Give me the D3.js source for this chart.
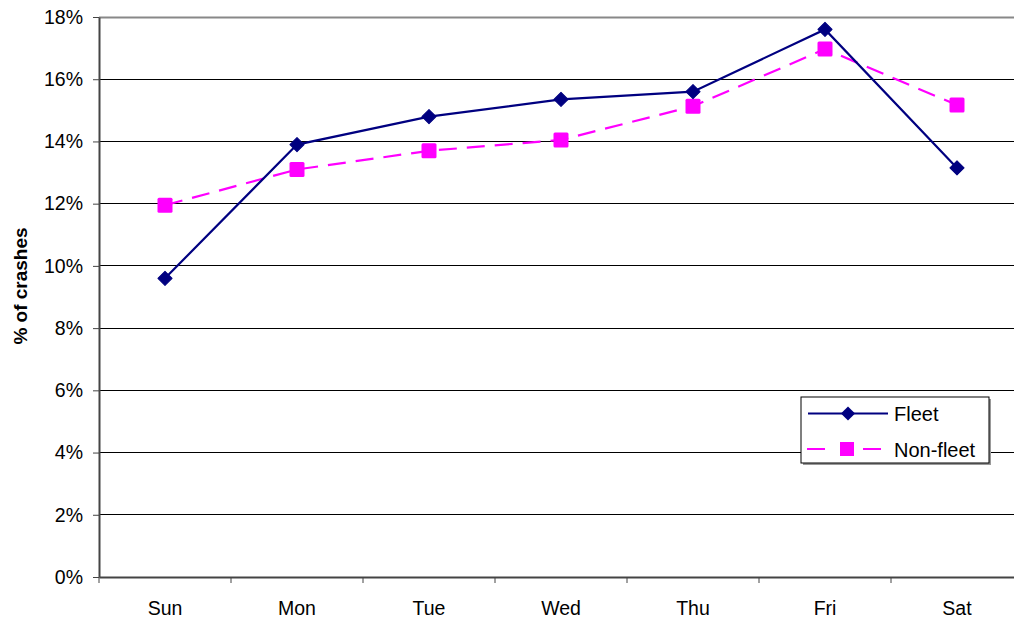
<!DOCTYPE html>
<html>
<head>
<meta charset="utf-8">
<script src="https://cdn.jsdelivr.net/npm/d3@7"></script>
<style>
  body { margin: 0; background: #fff; }
  svg { font-family: "Liberation Sans", Arial, sans-serif; }
</style>
</head>
<body>
<svg width="1014" height="622"></svg>
<script>
var days = ["Sun", "Mon", "Tue", "Wed", "Thu", "Fri", "Sat"];
var fleet = [9.6, 13.9, 14.8, 15.35, 15.6, 17.6, 13.15];
var nonFleet = [11.95, 13.1, 13.7, 14.05, 15.13, 16.97, 15.17];
var yTicks = [0, 2, 4, 6, 8, 10, 12, 14, 16, 18];

var svg = d3.select("svg"),
  margin = { top: 17, left: 99 },
  width = 7 * 132,
  height = 560,
  g = svg.append("g").attr("transform", "translate(" + margin.left + "," + margin.top + ")");

var x = d3.scaleBand().domain(days).range([0, width]);
var y = d3.scaleLinear().domain([0, 18]).range([height, 0]);

// gridlines
g.selectAll(".grid").data(yTicks.slice(1, -1)).enter().append("line")
  .attr("x1", 0).attr("x2", width)
  .attr("y1", function(d) { return y(d); })
  .attr("y2", function(d) { return y(d); })
  .attr("stroke", "#000").attr("stroke-width", 1).attr("shape-rendering", "crispEdges");

// top border
g.append("line").attr("x1", 0).attr("x2", width).attr("y1", 0.5).attr("y2", 0.5)
  .attr("stroke", "#888").attr("stroke-width", 2);

// y axis
var yAxis = g.append("g")
  .call(d3.axisLeft(y).tickValues(yTicks).tickFormat(function(d) { return d + "%"; }).tickSize(6).tickSizeOuter(0));
yAxis.select(".domain").attr("stroke", "#444").attr("stroke-width", 2);
yAxis.selectAll(".tick line").attr("stroke", "#444");
yAxis.selectAll("text").attr("font-size", 19.5).attr("fill", "#000").attr("x", -16).attr("font-family", "Liberation Sans, Arial, sans-serif");

// x axis with ticks at category boundaries
var xAxis = g.append("g").attr("transform", "translate(0," + height + ")")
  .call(d3.axisBottom(x).tickSize(0).tickSizeOuter(0));
xAxis.select(".domain").attr("stroke", "#444").attr("stroke-width", 2);
xAxis.selectAll("text").attr("font-size", 19.5).attr("fill", "#000").attr("dy", null).attr("y", 38).attr("font-family", "Liberation Sans, Arial, sans-serif");
xAxis.selectAll(".bound").data(d3.range(days.length + 1)).enter().append("line")
  .attr("x1", function(i) { return i * x.bandwidth(); })
  .attr("x2", function(i) { return i * x.bandwidth(); })
  .attr("y1", 0).attr("y2", 6)
  .attr("stroke", "#444");

// y label
svg.append("text")
  .attr("transform", "translate(27,286) rotate(-90)")
  .attr("text-anchor", "middle")
  .attr("font-size", 19).attr("font-weight", "bold")
  .text("% of crashes");

var cx = function(d, i) { return x(days[i]) + x.bandwidth() / 2; };
var line = d3.line().x(cx).y(function(d) { return y(d); });

// non-fleet
g.append("path").datum(nonFleet).attr("d", line)
  .attr("fill", "none").attr("stroke", "#ff00ff").attr("stroke-width", 2.2)
  .attr("stroke-dasharray", "18,10");
g.selectAll(".sq").data(nonFleet).enter().append("rect")
  .attr("x", function(d, i) { return cx(d, i) - 7.5; })
  .attr("y", function(d) { return y(d) - 7.5; })
  .attr("width", 15).attr("height", 15).attr("rx", 1.5)
  .attr("fill", "#ff00ff");

// fleet
g.append("path").datum(fleet).attr("d", line)
  .attr("fill", "none").attr("stroke", "#000080").attr("stroke-width", 2.2);
g.selectAll(".dm").data(fleet).enter().append("path")
  .attr("d", d3.symbol().type(d3.symbolSquare).size(100))
  .attr("transform", function(d, i) { return "translate(" + cx(d, i) + "," + y(d) + ") rotate(45)"; })
  .attr("fill", "#000080").attr("stroke", "#000080").attr("stroke-linejoin", "round");

// legend
var lg = svg.append("g").attr("transform", "translate(801,397)");
lg.append("rect").attr("x", 2).attr("y", 2).attr("width", 188).attr("height", 66).attr("fill", "#999");
lg.append("rect").attr("x", 0).attr("y", 0).attr("width", 188).attr("height", 66)
  .attr("fill", "#fff").attr("stroke", "#000").attr("stroke-width", 1);
lg.append("line").attr("x1", 7).attr("x2", 87).attr("y1", 16.5).attr("y2", 16.5)
  .attr("stroke", "#000080").attr("stroke-width", 2.2);
lg.append("path").attr("d", d3.symbol().type(d3.symbolSquare).size(100))
  .attr("transform", "translate(47,16.5) rotate(45)").attr("fill", "#000080");
lg.append("text").attr("x", 93).attr("y", 24).attr("font-size", 20).text("Fleet");
lg.append("line").attr("x1", 6).attr("x2", 80).attr("y1", 52).attr("y2", 52)
  .attr("stroke", "#ff00ff").attr("stroke-width", 2.2).attr("stroke-dasharray", "18,38,18");
lg.append("rect").attr("x", 39).attr("y", 45).attr("width", 14).attr("height", 14).attr("fill", "#ff00ff");
lg.append("text").attr("x", 93).attr("y", 60).attr("font-size", 20).text("Non-fleet");
</script>
</body>
</html>
